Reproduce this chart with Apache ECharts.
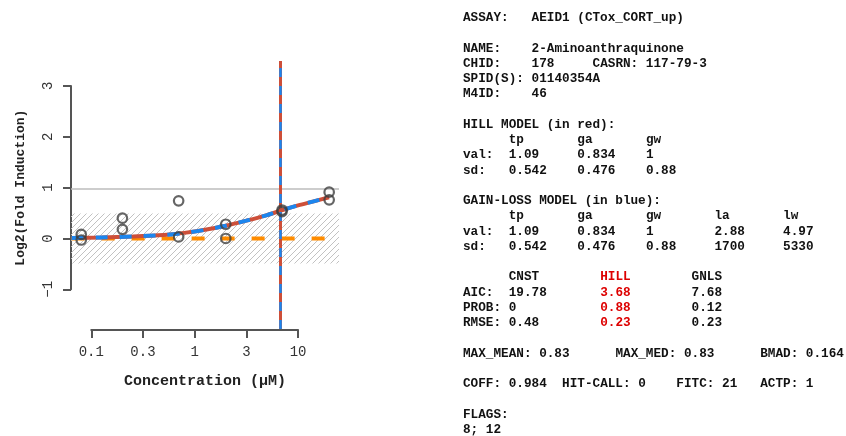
<!DOCTYPE html>
<html>
<head>
<meta charset="utf-8">
<script src="https://cdn.jsdelivr.net/npm/echarts@6/dist/echarts.min.js"></script>
<style>
  html, body { margin: 0; padding: 0; background: #ffffff; }
  #chart { width: 846px; height: 436px; }
</style>
</head>
<body>
<div id="chart"></div>
<script>
// ---- Concentration-response data (log10 concentration, µM) ----
const concUM = [0.08, 0.08, 0.2, 0.2, 0.7, 0.7, 2, 2, 7, 7, 20, 20];
const respLog2 = [0.08, -0.03, 0.40, 0.18, 0.74, 0.03, 0.28, 0.00, 0.56, 0.53, 0.91, 0.76];

// Fitted curves sampled along log10 concentration
const curveLogConc = [-1.19, -0.9, -0.6, -0.3, -0.1, 0.1, 0.3, 0.5, 0.7, 0.85, 1.0, 1.15, 1.3];
const hillCurve    = [0.01, 0.02, 0.04, 0.07, 0.11, 0.17, 0.25, 0.35, 0.46, 0.56, 0.65, 0.73, 0.81];
const gnlsCurve    = [0.01, 0.02, 0.04, 0.07, 0.11, 0.17, 0.25, 0.35, 0.46, 0.56, 0.65, 0.73, 0.81];
const cnstLevel = 0;

// Axis ticks
const xTickLogs = [-1, -0.5, 0, 0.5, 1];
const xTickLabels = ['0.1', '0.3', '1', '3', '10'];
const yTickValues = [-1, 0, 1, 2, 3];
const yTickLabels = ['\u22121', '0', '1', '2', '3'];

// ---- Summary values ----
const assayName = 'AEID1 (CTox_CORT_up)';
const chemName = '2-Aminoanthraquinone';
const chid = '178';
const casrn = '117-79-3';
const spid = '01140354A';
const m4id = '46';
const hillHead = ['tp', 'ga', 'gw'];
const hillVal = ['1.09', '0.834', '1'];
const hillSd = ['0.542', '0.476', '0.88'];
const gnlsHead = ['tp', 'ga', 'gw', 'la', 'lw'];
const gnlsVal = ['1.09', '0.834', '1', '2.88', '4.97'];
const gnlsSd = ['0.542', '0.476', '0.88', '1700', '5330'];
const modelNames = ['CNST', 'HILL', 'GNLS'];
const modelAic = ['19.78', '3.68', '7.68'];
const modelProb = ['0', '0.88', '0.12'];
const modelRmse = ['0.48', '0.23', '0.23'];
const winningModel = 1;
const maxMean = '0.83';
const maxMed = '0.83';
const bmad = '0.164';
const coff = '0.984';
const hitCall = '0';
const fitc = '21';
const actp = '1';
const flags = '8; 12';

// ---- Layout ----
const PLOT = { left: 71, top: 61, width: 268, height: 268 };
const XR = [-1.196, 1.396];
const YR = [-1.78, 3.49];
const pxX = v => PLOT.left + (v - XR[0]) / (XR[1] - XR[0]) * PLOT.width;
const pxY = v => PLOT.top + (YR[1] - v) / (YR[1] - YR[0]) * PLOT.height;

const MONO = '"Liberation Mono", "DejaVu Sans Mono", monospace';
const AXIS_COLOR = '#555555';
const RED = '#cd4f39';
const BLUE = '#1c86ee';
const ORANGE = '#ff8c00';

// Diagonal hatch for the baseline noise band
const hatch = document.createElement('canvas');
hatch.width = 6; hatch.height = 6;
(function () {
  const c = hatch.getContext('2d');
  c.strokeStyle = '#c2c2c2';
  c.lineWidth = 1;
  c.beginPath();
  c.moveTo(0, 6); c.lineTo(6, 0);
  c.moveTo(-1, 1); c.lineTo(1, -1);
  c.moveTo(5, 7); c.lineTo(7, 5);
  c.stroke();
})();

const band = 3 * parseFloat(bmad);
const gaHill = parseFloat(hillVal[1]);
const gaGnls = parseFloat(gnlsVal[1]);

const points = concUM.map((c, i) => [Math.log10(c), respLog2[i]]);
const hillData = curveLogConc.map((x, i) => [x, hillCurve[i]]);
const gnlsData = curveLogConc.map((x, i) => [x, gnlsCurve[i]]);
const cnstData = [[curveLogConc[0], cnstLevel], [curveLogConc[curveLogConc.length - 1], cnstLevel]];

// ---- Text panel ----
const TX = 463, TY0 = 18, LH = 15.25, CW = 7.62;
const TEXT_RED = '#dd0000';
const textRows = [];
function row(line, cells) { textRows.push({ line, cells }); }
row(0, [[0, 'ASSAY:'], [9, assayName]]);
row(2, [[0, 'NAME:'], [9, chemName]]);
row(3, [[0, 'CHID:'], [9, chid], [17, 'CASRN: ' + casrn]]);
row(4, [[0, 'SPID(S):'], [9, spid]]);
row(5, [[0, 'M4ID:'], [9, m4id]]);
row(7, [[0, 'HILL MODEL (in red):']]);
row(8, hillHead.map((t, i) => [6 + 9 * i, t]));
row(9, [[0, 'val:']].concat(hillVal.map((t, i) => [6 + 9 * i, t])));
row(10, [[0, 'sd:']].concat(hillSd.map((t, i) => [6 + 9 * i, t])));
row(12, [[0, 'GAIN-LOSS MODEL (in blue):']]);
row(13, gnlsHead.map((t, i) => [6 + 9 * i, t]));
row(14, [[0, 'val:']].concat(gnlsVal.map((t, i) => [6 + 9 * i, t])));
row(15, [[0, 'sd:']].concat(gnlsSd.map((t, i) => [6 + 9 * i, t])));
const modelCell = (t, i) => [6 + 12 * i, t, i === winningModel ? TEXT_RED : null];
row(17, modelNames.map(modelCell));
row(18, [[0, 'AIC:']].concat(modelAic.map(modelCell)));
row(19, [[0, 'PROB:']].concat(modelProb.map(modelCell)));
row(20, [[0, 'RMSE:']].concat(modelRmse.map(modelCell)));
row(22, [[0, 'MAX_MEAN: ' + maxMean], [20, 'MAX_MED: ' + maxMed], [39, 'BMAD: ' + bmad]]);
row(24, [[0, 'COFF: ' + coff], [13, 'HIT-CALL: ' + hitCall], [28, 'FITC: ' + fitc], [39, 'ACTP: ' + actp]]);
row(26, [[0, 'FLAGS:']]);
row(27, [[0, flags]]);

const textElements = [];
textRows.forEach(r => {
  r.cells.forEach(([col, text, color]) => {
    textElements.push({
      type: 'text',
      x: TX + col * CW,
      y: TY0 + r.line * LH,
      silent: true,
      style: {
        text: text,
        fill: color || '#111111',
        fontFamily: MONO,
        fontSize: 12.7,
        fontWeight: 'bold',
        verticalAlign: 'middle',
        align: 'left'
      }
    });
  });
});

const chart = echarts.init(document.getElementById('chart'), null, { renderer: 'canvas' });

chart.setOption({
  animation: false,
  backgroundColor: '#ffffff',
  grid: [
    { left: PLOT.left, top: PLOT.top, width: PLOT.width, height: PLOT.height },
    { left: pxX(-1), width: pxX(1) - pxX(-1), top: PLOT.top + PLOT.height, height: 1 },
    { left: PLOT.left, width: 1, top: pxY(3), height: pxY(-1) - pxY(3) }
  ],
  xAxis: [
    {
      gridIndex: 0, type: 'value', min: XR[0], max: XR[1],
      axisLine: { show: false }, axisTick: { show: false },
      axisLabel: { show: false }, splitLine: { show: false },
      name: 'Concentration (\u03bcM)', nameLocation: 'middle', nameGap: 45,
      nameTextStyle: { fontFamily: MONO, fontWeight: 'bold', fontSize: 15, color: '#222222' }
    },
    {
      gridIndex: 1, type: 'value', min: -1, max: 1, interval: 0.5, position: 'bottom',
      axisLine: { show: true, lineStyle: { color: AXIS_COLOR, width: 2 } },
      axisTick: { show: true, length: 8, lineStyle: { color: AXIS_COLOR, width: 2 } },
      axisLabel: {
        show: true, margin: 15, color: '#333333', fontFamily: MONO, fontSize: 14,
        formatter: v => {
          const i = xTickLogs.findIndex(t => Math.abs(t - v) < 1e-6);
          return i >= 0 ? xTickLabels[i] : '';
        }
      },
      splitLine: { show: false }
    },
    { gridIndex: 2, type: 'value', show: false }
  ],
  yAxis: [
    { gridIndex: 0, type: 'value', min: YR[0], max: YR[1], show: false },
    { gridIndex: 1, type: 'value', show: false },
    {
      gridIndex: 2, type: 'value', min: -1, max: 3, interval: 1, position: 'left',
      axisLine: { show: true, lineStyle: { color: AXIS_COLOR, width: 2 } },
      axisTick: { show: true, length: 8, lineStyle: { color: AXIS_COLOR, width: 2 } },
      axisLabel: {
        show: true, rotate: 90, margin: 16, color: '#333333', fontFamily: MONO, fontSize: 14,
        formatter: v => {
          const i = yTickValues.findIndex(t => Math.abs(t - v) < 1e-6);
          return i >= 0 ? yTickLabels[i] : '';
        }
      },
      splitLine: { show: false },
      name: 'Log2(Fold Induction)', nameLocation: 'middle', nameGap: 44,
      nameTextStyle: { fontFamily: MONO, fontWeight: 'bold', fontSize: 13, color: '#222222' }
    }
  ],
  series: [
    {
      // constant model, plus noise band and cutoff line
      type: 'line', xAxisIndex: 0, yAxisIndex: 0, z: 2,
      data: cnstData, showSymbol: false, silent: true,
      lineStyle: { color: ORANGE, width: 4, type: [13, 17] },
      markArea: {
        silent: true, z: 1,
        itemStyle: { color: { image: hatch, repeat: 'repeat' }, borderWidth: 0 },
        label: { show: false },
        data: [[{ yAxis: -band }, { yAxis: band }]]
      },
      markLine: {
        silent: true, symbol: ['none', 'none'], label: { show: false },
        lineStyle: { color: '#bdbdbd', width: 1.5, type: 'solid' },
        data: [{ yAxis: parseFloat(coff) }]
      }
    },
    {
      // Hill model
      type: 'line', xAxisIndex: 0, yAxisIndex: 0, z: 3,
      data: hillData, showSymbol: false, smooth: 0.3, silent: true,
      lineStyle: { color: RED, width: 4 },
      markLine: {
        silent: true, symbol: ['none', 'none'], label: { show: false },
        lineStyle: { color: RED, width: 3, type: 'solid' },
        data: [{ xAxis: gaHill }]
      }
    },
    {
      // gain-loss model
      type: 'line', xAxisIndex: 0, yAxisIndex: 0, z: 4,
      data: gnlsData, showSymbol: false, smooth: 0.3, silent: true,
      lineStyle: { color: BLUE, width: 4, type: [12, 12] },
      markLine: {
        silent: true, symbol: ['none', 'none'], label: { show: false },
        lineStyle: { color: BLUE, width: 2.5, type: [9, 9] },
        data: [{ xAxis: gaGnls }]
      }
    },
    {
      type: 'scatter', xAxisIndex: 0, yAxisIndex: 0, z: 5,
      data: points, symbol: 'circle', symbolSize: 9.5, silent: true,
      itemStyle: { color: 'rgba(0,0,0,0)', borderColor: '#3f3f3f', borderWidth: 2.2 }
    }
  ],
  graphic: { elements: textElements }
});
</script>
</body>
</html>
